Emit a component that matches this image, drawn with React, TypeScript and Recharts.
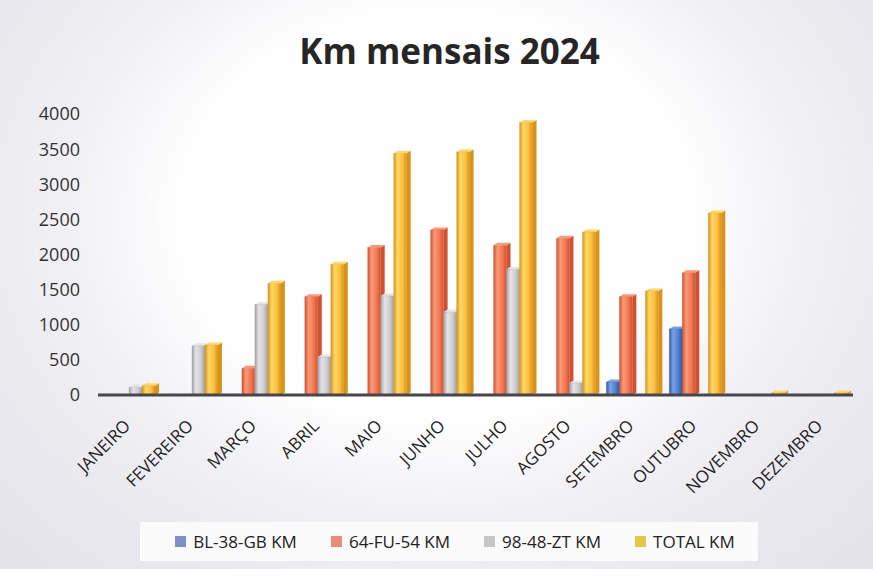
import { BarChart, Bar, XAxis, YAxis, Legend } from 'recharts';

const MONTHS = [
  'JANEIRO', 'FEVEREIRO', 'MARÇO', 'ABRIL', 'MAIO', 'JUNHO',
  'JULHO', 'AGOSTO', 'SETEMBRO', 'OUTUBRO', 'NOVEMBRO', 'DEZEMBRO',
];
const BL_38_GB = [0, 0, 0, 0, 0, 0, 0, 0, 185, 940, 0, 0];
const FU_64_54 = [0, 0, 380, 1400, 2100, 2350, 2130, 2230, 1400, 1740, 0, 0];
const ZT_98_48 = [110, 700, 1290, 540, 1410, 1180, 1790, 170, 0, 0, 0, 0];
const TOTAL = [130, 710, 1590, 1860, 3440, 3460, 3880, 2320, 1480, 2590, 30, 30];
const Y_TICKS = [0, 500, 1000, 1500, 2000, 2500, 3000, 3500, 4000];

const SERIES = [
  { key: 'bl', name: 'BL-38-GB KM', color: '#4f7fd0', dark: '#2f5aa8', light: '#7aa2e6', swatch: '#7f8fcc' },
  { key: 'fu', name: '64-FU-54 KM', color: '#f2774f', dark: '#cf5230', light: '#f89a78', swatch: '#f08a78' },
  { key: 'zt', name: '98-48-ZT KM', color: '#cdcdd0', dark: '#a0a0a6', light: '#e4e4e6', swatch: '#c6c6c8' },
  { key: 'total', name: 'TOTAL KM', color: '#fcbf3c', dark: '#d9931a', light: '#fdd868', swatch: '#e2c843' },
];

const data = MONTHS.map((m, i) => ({
  month: m,
  bl: BL_38_GB[i],
  fu: FU_64_54[i],
  zt: ZT_98_48[i],
  total: TOTAL[i],
}));

const FONT = '"Open Sans", Calibri, sans-serif';

// front face + thin side and top faces, to get the old excel 3d look
function Bar3D(props: any) {
  const { x, y, width, height, seriesKey } = props;
  if (!height || height <= 0) return null;
  const s = SERIES.find((v) => v.key === seriesKey)!;
  const d = 4;
  const dy = 2.5;
  const r = x + width;
  return (
    <g>
      <polygon points={`${r},${y} ${r + d},${y - dy} ${r + d},${y + height - dy} ${r},${y + height}`} fill={s.dark} />
      <polygon points={`${x},${y} ${x + d},${y - dy} ${r + d},${y - dy} ${r},${y}`} fill={s.light} />
      <rect x={x} y={y} width={width} height={height} fill={`url(#g-${seriesKey})`} stroke={s.dark} strokeOpacity={0.4} strokeWidth={0.6} />
    </g>
  );
}

function MonthTick(props: any) {
  const { x, y, payload } = props;
  return (
    <g transform={`translate(${x + 2},${y + 24})`}>
      <text x={0} y={0} textAnchor="end" transform="rotate(-45)" fill="#222" fontSize={17} fontFamily={FONT}>
        {payload.value}
      </text>
    </g>
  );
}

function LegendContent() {
  return (
    <div
      style={{
        display: 'flex',
        justifyContent: 'center',
        gap: 34,
        fontFamily: FONT,
        fontSize: 17,
        color: '#222',
        background: '#fbfbfc',
        padding: '8px 0 8px 12px',
      }}
    >
      {SERIES.map((s) => (
        <div key={s.key} style={{ display: 'flex', alignItems: 'center', gap: 7 }}>
          <span style={{ width: 11, height: 11, background: s.swatch, display: 'inline-block' }} />
          <span>{s.name}</span>
        </div>
      ))}
    </div>
  );
}

export default function App() {
  return (
    <div
      style={{
        position: 'absolute',
        left: 0,
        top: 0,
        width: 873,
        height: 569,
        background: 'radial-gradient(ellipse at 50% 38%, #ffffff 0%, #ffffff 40%, #f1f1f5 60%, #e7e7ed 82%, #e3e3e9 100%)',
        overflow: 'hidden',
      }}
    >
      <div
        style={{
          position: 'absolute',
          left: 0,
          right: 0,
          top: 27,
          textAlign: 'center',
          fontFamily: FONT,
          fontWeight: 700,
          fontSize: 35,
          color: '#262626',
          paddingLeft: 26,
        }}
      >
        Km mensais 2024
      </div>
      <BarChart
        width={873}
        height={569}
        data={data}
        margin={{ top: 114, right: 20, left: 0, bottom: 0 }}
        barCategoryGap="8%"
        barGap={0}
      >
        <defs>
          {SERIES.map((s) => (
            <linearGradient key={s.key} id={`g-${s.key}`} x1="0" y1="0" x2="1" y2="0">
              <stop offset="0%" stopColor={s.dark} />
              <stop offset="30%" stopColor={s.light} />
              <stop offset="70%" stopColor={s.color} />
              <stop offset="100%" stopColor={s.dark} />
            </linearGradient>
          ))}
        </defs>
        <XAxis
          dataKey="month"
          interval={0}
          height={135}
          tick={<MonthTick />}
          tickLine={false}
          axisLine={{ stroke: '#46464c', strokeWidth: 3 }}
        />
        <YAxis
          width={98}
          domain={[0, 4000]}
          ticks={Y_TICKS}
          axisLine={false}
          tickLine={false}
          tickMargin={12}
          tick={{ fill: '#333', fontSize: 18, fontFamily: FONT }}
        />
        <Legend
          verticalAlign="bottom"
          content={<LegendContent />}
          wrapperStyle={{ left: 140, width: 618, bottom: 8 }}
        />
        {SERIES.map((s) => (
          <Bar
            key={s.key}
            dataKey={s.key}
            name={s.name}
            fill={s.color}
            shape={(p: any) => <Bar3D {...p} seriesKey={s.key} />}
            isAnimationActive={false}
          />
        ))}
      </BarChart>
    </div>
  );
}
